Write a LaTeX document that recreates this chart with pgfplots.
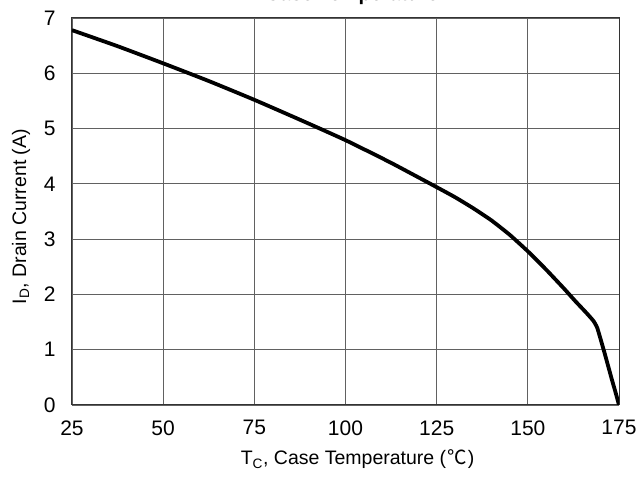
\documentclass[border=0pt]{standalone}
\usepackage{pgfplots}
\pgfplotsset{compat=1.18}
\usepackage{fontspec}
\setmainfont{Liberation Sans}
\newfontfamily\cjk{Noto Sans CJK SC}
\begin{document}
\begin{tikzpicture}[x=1bp,y=1bp]
\begin{axis}[
  at={(0,0)}, anchor=south west,
  scale only axis, width=547bp, height=387bp,
  xmin=25, xmax=175, ymin=0, ymax=7,
  xtick={25,50,75,100,125,150,175},
  ytick={0,1,2,3,4,5,6,7},
  grid=major,
  major grid style={line width=0.9bp, color=black!62},
  axis line style={line width=1bp, color=black!80},
  major tick length=0pt,
  /pgf/number format/assume math mode=true,
  tick label style={font=\fontsize{21bp}{25bp}\selectfont},
  xticklabel style={yshift=-12bp},
  yticklabel style={xshift=-13bp},
  label style={font=\fontsize{19.5bp}{23bp}\selectfont},
  xlabel={T\textsubscript{C}, Case Temperature (\hspace{1bp}{\cjk ℃}\hspace{1bp})},
  xlabel style={at={(axis description cs:0.522,-0.155)}, anchor=base},
  ylabel={I\textsubscript{D}, Drain Current (A)},
  ylabel style={at={(axis description cs:-0.084,0.487)}, anchor=base},
  title={\textbf{Case Temperature}},
  title style={font=\fontsize{20bp}{24bp}\selectfont, at={(axis description cs:0.512,1.031)}, anchor=base},
]
\addplot[black, line width=3.8bp, line join=round, smooth, tension=0.3] coordinates {
(25,6.78) (37.5,6.49) (50,6.18) (62.5,5.86) (75,5.52) (87.5,5.16)
(100,4.79) (112.5,4.38) (125,3.94) (130,3.76) (135,3.56) (140,3.34) (145,3.08)
(150,2.78) (155,2.45) (160,2.10) (163,1.88) (166,1.67) (168,1.52) (169,1.40)
(170,1.18) (171,0.95) (172,0.71) (173,0.47) (174,0.24) (175,0)
};
\end{axis}
\pgfresetboundingbox
\useasboundingbox (-72,-73) rectangle (568,405);
\end{tikzpicture}
\end{document}
